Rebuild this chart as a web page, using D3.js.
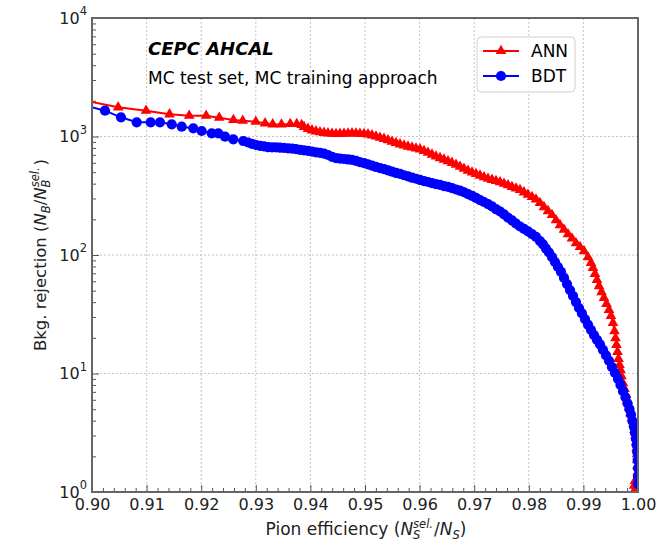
<!DOCTYPE html>
<html>
<head>
<meta charset="utf-8">
<script src="https://cdn.jsdelivr.net/npm/d3@7"></script>
<style>
  body { margin: 0; background: #fff; }
  svg { font-family: "DejaVu Sans", sans-serif; }
</style>
</head>
<body>
<svg id="chart" width="667" height="542"></svg>
<script>
// ROC curves: pion efficiency vs background rejection
const annEff = [0.8985, 0.9048, 0.9099, 0.9142, 0.9178, 0.9209, 0.9233, 0.9259, 0.9276, 0.9300,
  0.9317, 0.9331, 0.9347, 0.9363, 0.9375, 0.9384, 0.93883, 0.93956, 0.94029, 0.94103,
  0.94176, 0.94249, 0.94322, 0.94396, 0.94469, 0.94542, 0.94615, 0.94689, 0.94762, 0.94835,
  0.94908, 0.94982, 0.95055, 0.95128, 0.95201, 0.95275, 0.95348, 0.95421, 0.95495, 0.95568,
  0.95641, 0.95714, 0.95788, 0.95861, 0.95934, 0.96007, 0.96081, 0.96154, 0.96227, 0.96300,
  0.96374, 0.96447, 0.96520, 0.96593, 0.96667, 0.96740, 0.96813, 0.96886, 0.96960, 0.97033,
  0.97106, 0.97179, 0.97253, 0.97326, 0.97399, 0.97473, 0.97546, 0.97619, 0.97692, 0.97766,
  0.97839, 0.97912, 0.97985, 0.98059, 0.98132, 0.98205, 0.98278, 0.98352, 0.98425, 0.98498,
  0.98571, 0.98645, 0.98718, 0.98791, 0.98864, 0.98938, 0.99011, 0.99084, 0.99139, 0.99176,
  0.99212, 0.99249, 0.99286, 0.99332, 0.99377, 0.99423, 0.99469, 0.99505, 0.99542, 0.99570,
  0.99588, 0.99606, 0.99625, 0.99643, 0.99661, 0.99679, 0.99698, 0.99725, 0.99753, 0.99780,
  0.99808, 0.99835, 0.99863, 0.99890, 0.99918, 0.99936, 0.99954, 0.99967, 0.99976, 0.99982,
  0.99987, 0.99991, 0.99995, 0.99996, 1.0, 0.99945, 0.99930, 0.99950, 1.0];
const annRej = [2018, 1763, 1651, 1539, 1499, 1499, 1442, 1378, 1359, 1333,
  1292, 1268, 1263, 1275, 1275, 1250, 1203, 1161, 1128, 1106,
  1087, 1075, 1064, 1056, 1050, 1054, 1058, 1062, 1064, 1060,
  1054, 1050, 1044, 1024, 1000, 979, 956, 931, 906, 881,
  859, 840, 823, 808, 792, 780, 755, 729, 704, 679,
  658, 639, 619, 600, 578, 556, 535, 514, 498, 483,
  468, 454, 441, 431, 421, 412, 400, 388, 376, 365,
  354, 338, 323, 309, 294, 275, 254, 235, 218, 197,
  179, 164, 150, 138, 126, 117, 108, 96, 85.6, 77.7,
  69.1, 61.5, 54.7, 48.7, 43.4, 38.6, 34.4, 30.6, 26.7, 22.8,
  19.9, 17.4, 15.2, 13.3, 11.8, 10.7, 9.5, 8.3, 7.4, 6.6,
  5.9, 5.2, 4.6, 4.2, 3.75, 3.34, 2.97, 2.64, 2.35, 2.09,
  1.86, 1.66, 1.47, 1.31, 1.17, 1.24, 1.13, 1.06, 1.02];

const bdtEff = [0.8985, 0.90238, 0.90531, 0.90819, 0.91075, 0.91245, 0.91460, 0.91643, 0.91855, 0.92009,
  0.92192, 0.92313, 0.92436, 0.92588, 0.92771, 0.92857, 0.92930, 0.93004, 0.93077, 0.93150,
  0.93223, 0.93297, 0.93370, 0.93443, 0.93516, 0.93590, 0.93663, 0.93736, 0.93810, 0.93883,
  0.93956, 0.94029, 0.94103, 0.94176, 0.94249, 0.94322, 0.94396, 0.94469, 0.94542, 0.94615,
  0.94689, 0.94762, 0.94835, 0.94908, 0.94982, 0.95055, 0.95128, 0.95201, 0.95275, 0.95348,
  0.95421, 0.95495, 0.95568, 0.95641, 0.95714, 0.95788, 0.95861, 0.95934, 0.96007, 0.96081,
  0.96154, 0.96227, 0.96300, 0.96374, 0.96447, 0.96520, 0.96593, 0.96667, 0.96740, 0.96813,
  0.96886, 0.96960, 0.97033, 0.97106, 0.97179, 0.97253, 0.97326, 0.97399, 0.97473, 0.97546,
  0.97619, 0.97692, 0.97766, 0.97839, 0.97912, 0.97985, 0.98059, 0.98132, 0.98205, 0.98260,
  0.98315, 0.98370, 0.98425, 0.98480, 0.98535, 0.98590, 0.98645, 0.98700, 0.98755, 0.98810,
  0.98864, 0.98919, 0.98974, 0.99029, 0.99084, 0.99139, 0.99194, 0.99249, 0.99304, 0.99359,
  0.99414, 0.99469, 0.99524, 0.99579, 0.99634, 0.99679, 0.99725, 0.99771, 0.99808, 0.99844,
  0.99872, 0.99899, 0.99927, 0.99945, 0.99963, 0.99976, 0.99985, 0.99993, 1.0, 1.0, 1.0];
const bdtRej = [1837, 1651, 1452, 1318, 1318, 1318, 1268, 1210, 1173, 1113,
  1064, 1064, 996, 947, 916, 890, 868, 848, 835, 825,
  815, 811, 808, 804, 800, 795, 791, 781, 772, 763,
  755, 746, 736, 726, 717, 698, 674, 657, 651, 646,
  641, 635, 624, 609, 595, 581, 568, 555, 542, 530,
  517, 505, 494, 483, 471, 460, 450, 440, 430, 421,
  413, 405, 397, 390, 382, 375, 366, 357, 350, 339,
  327, 315, 303, 291, 280, 269, 257, 244, 233, 220,
  207, 196, 184, 174, 166, 158, 150, 142, 131, 123,
  113, 105, 96, 87.3, 79.2, 71.9, 64.0, 56.9, 50.6, 45.1,
  40.1, 35.7, 32.1, 28.8, 25.9, 23.3, 21.1, 19.2, 17.6, 15.8,
  14.2, 12.8, 11.3, 10.1, 9.0, 8.0, 7.1, 6.3, 5.6, 5.0,
  4.5, 3.97, 3.54, 3.15, 2.80, 2.49, 2.18, 1.86, 1.59, 1.36, 1.17];

const xTickValues = [0.90, 0.91, 0.92, 0.93, 0.94, 0.95, 0.96, 0.97, 0.98, 0.99, 1.00];
const yTickExponents = [0, 1, 2, 3, 4];
const seriesNames = ["ANN", "BDT"];
const seriesColors = ["#ff0000", "#0000ff"];
const titleText = "CEPC AHCAL";
const subtitleText = "MC test set, MC training approach";

const svg = d3.select("#chart");
const plotLeft = 92, plotRight = 638, plotTop = 18, plotBottom = 492;

const x = d3.scaleLinear().domain([0.90, 1.00]).range([plotLeft, plotRight]);
const y = d3.scaleLog().domain([1, 1e4]).range([plotBottom, plotTop]);

const yTickValues = yTickExponents.map(e => Math.pow(10, e));
const xMinor = d3.range(0, 51).map(i => 0.9 + i * 0.002).filter((v, i) => i % 5 !== 0);
const yMinor = [];
for (let e = 0; e < 4; e++) for (let m = 2; m <= 9; m++) yMinor.push(m * Math.pow(10, e));

// grid
const grid = svg.append("g").attr("stroke", "#b4b4b4").attr("stroke-width", 0.8).attr("stroke-dasharray", "2,2");
grid.selectAll("line.v").data(xTickValues).join("line").attr("class", "v")
  .attr("x1", d => x(d)).attr("x2", d => x(d)).attr("y1", plotTop).attr("y2", plotBottom);
grid.selectAll("line.h").data(yTickValues).join("line").attr("class", "h")
  .attr("y1", d => y(d)).attr("y2", d => y(d)).attr("x1", plotLeft).attr("x2", plotRight);

// axes
const tickColor = "#555";
const xAxis = svg.append("g").attr("transform", `translate(0,${plotBottom})`)
  .call(d3.axisBottom(x).tickValues(xTickValues).tickSizeInner(-7).tickSizeOuter(0)
    .tickPadding(7).tickFormat(d3.format(".2f")));
const xAxisMinor = svg.append("g").attr("transform", `translate(0,${plotBottom})`)
  .call(d3.axisBottom(x).tickValues(xMinor).tickSizeInner(-4).tickSizeOuter(0).tickFormat(""));
const yAxis = svg.append("g").attr("transform", `translate(${plotLeft},0)`)
  .call(d3.axisLeft(y).tickValues(yTickValues).tickSizeInner(-7).tickSizeOuter(0)
    .tickPadding(5).tickFormat(""));
const yAxisMinor = svg.append("g").attr("transform", `translate(${plotLeft},0)`)
  .call(d3.axisLeft(y).tickValues(yMinor).tickSizeInner(-4).tickSizeOuter(0).tickFormat(""));

[xAxis, xAxisMinor, yAxis, yAxisMinor].forEach(g => {
  g.select(".domain").remove();
  g.selectAll(".tick line").attr("stroke", tickColor).attr("stroke-width", 1);
});
xAxis.selectAll(".tick text").attr("font-size", 16).attr("fill", "#222")
  .attr("font-family", "DejaVu Sans");

// power-of-ten labels for the log axis
yAxis.selectAll(".tick text").each(function (d) {
  const t = d3.select(this).text(null).attr("font-size", 16).attr("fill", "#222")
    .attr("font-family", "DejaVu Sans").attr("dy", "0.32em").attr("x", -5);
  t.append("tspan").text("10");
  t.append("tspan").attr("font-size", 11.5).attr("dy", "-0.75em").text(Math.round(Math.log10(d)));
});

// curves
const line = d3.line().x(d => x(d[0])).y(d => y(d[1]));
svg.append("clipPath").attr("id", "plotClip").append("rect")
  .attr("x", plotLeft).attr("y", plotTop).attr("width", plotRight - plotLeft).attr("height", plotBottom - plotTop);
const plot = svg.append("g").attr("clip-path", "url(#plotClip)");

const annPts = d3.zip(annEff, annRej);
const bdtPts = d3.zip(bdtEff, bdtRej);
const triangle = d3.symbol().type(d3.symbolTriangle).size(50);
const circle = d3.symbol().type(d3.symbolCircle).size(82);

plot.append("path").datum(annPts).attr("d", line).attr("fill", "none")
  .attr("stroke", seriesColors[0]).attr("stroke-width", 2);
plot.selectAll("path.ann").data(annPts).join("path").attr("class", "ann")
  .attr("d", triangle).attr("transform", d => `translate(${x(d[0])},${y(d[1])})`)
  .attr("fill", seriesColors[0]);

plot.append("path").datum(bdtPts).attr("d", line).attr("fill", "none")
  .attr("stroke", seriesColors[1]).attr("stroke-width", 2);
plot.selectAll("path.bdt").data(bdtPts).join("path").attr("class", "bdt")
  .attr("d", circle).attr("transform", d => `translate(${x(d[0])},${y(d[1])})`)
  .attr("fill", seriesColors[1]);

// frame
svg.append("rect").attr("x", plotLeft).attr("y", plotTop).attr("width", plotRight - plotLeft)
  .attr("height", plotBottom - plotTop).attr("fill", "none").attr("stroke", "#666").attr("stroke-width", 2);

// titles
svg.append("text").attr("x", 148).attr("y", 55).attr("font-size", 18)
  .attr("font-weight", "bold").attr("font-style", "italic").attr("fill", "#000").text(titleText);
svg.append("text").attr("x", 148).attr("y", 84).attr("font-size", 17)
  .attr("fill", "#000").text(subtitleText);

// axis labels with math notation
const xl = svg.append("text").attr("x", 366).attr("y", 535).attr("text-anchor", "middle")
  .attr("font-size", 17).attr("fill", "#222");
xl.append("tspan").text("Pion efficiency (");
xl.append("tspan").attr("font-style", "italic").text("N");
xl.append("tspan").attr("font-style", "italic").attr("font-size", 11.5).attr("dy", 4).text("S");
xl.append("tspan").attr("font-style", "italic").attr("font-size", 11.5).attr("dx", -7.3).attr("dy", -11.5).text("sel.");
xl.append("tspan").attr("dy", 7.5).attr("dx", 1).text("/");
xl.append("tspan").attr("font-style", "italic").text("N");
xl.append("tspan").attr("font-style", "italic").attr("font-size", 11.5).attr("dy", 4).text("S");
xl.append("tspan").attr("dy", -4).text(")");

const yl = svg.append("text").attr("transform", "translate(46,255) rotate(-90)")
  .attr("text-anchor", "middle").attr("font-size", 16.5).attr("fill", "#222");
yl.append("tspan").text("Bkg. rejection (");
yl.append("tspan").attr("font-style", "italic").text("N");
yl.append("tspan").attr("font-style", "italic").attr("font-size", 11.5).attr("dy", 4).text("B");
yl.append("tspan").attr("dy", -4).text("/");
yl.append("tspan").attr("font-style", "italic").text("N");
yl.append("tspan").attr("font-style", "italic").attr("font-size", 11.5).attr("dy", 4).text("B");
yl.append("tspan").attr("font-style", "italic").attr("font-size", 11.5).attr("dx", -7.8).attr("dy", -11.5).text("sel.");
yl.append("tspan").attr("dy", 7.5).attr("dx", 2).text(")");

// legend
const lg = svg.append("g");
lg.append("rect").attr("x", 477).attr("y", 37).attr("width", 98).attr("height", 55).attr("rx", 4)
  .attr("fill", "#fff").attr("fill-opacity", 0.8).attr("stroke", "#d0d0d0").attr("stroke-width", 1);
const legendSymbols = [triangle, circle];
seriesNames.forEach((name, i) => {
  const cy = 51 + i * 25;
  lg.append("line").attr("x1", 483).attr("x2", 519).attr("y1", cy).attr("y2", cy)
    .attr("stroke", seriesColors[i]).attr("stroke-width", 2);
  lg.append("path").attr("d", legendSymbols[i]).attr("transform", `translate(501,${cy})`)
    .attr("fill", seriesColors[i]);
  lg.append("text").attr("x", 531).attr("y", cy + 6).attr("font-size", 17).attr("fill", "#000").text(name);
});
</script>
</body>
</html>
